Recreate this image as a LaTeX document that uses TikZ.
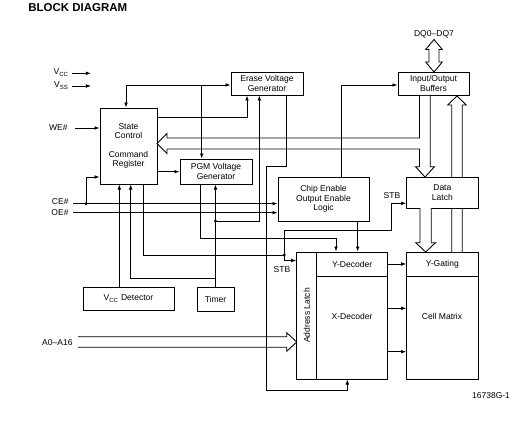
\documentclass[tikz,border=0pt]{standalone}
\usepackage{fontspec}
\setmainfont{Liberation Sans}
\usetikzlibrary{arrows.meta}

\tikzset{
  blk/.style={draw, fill=white, inner sep=0pt, align=center, font=\fontsize{6.4}{7.1}\selectfont},
  lbl/.style={inner sep=0.75pt, align=center, font=\fontsize{6.4}{7.1}\selectfont},
  sig/.style={-{Latex[length=3.8pt,width=2.8pt]}},
  bus/.style={draw, fill=white, line join=miter},
}

\begin{document}
\begin{tikzpicture}[x=0.75pt,y=0.75pt,yscale=-1,xscale=1,line width=0.65pt]
\useasboundingbox (0,0) rectangle (521,428);
\node[anchor=west, inner sep=0pt, font=\fontsize{8.6}{10}\selectfont\bfseries] (title) at (28,8) {BLOCK DIAGRAM};

\node[blk, minimum width=54pt, minimum height=17.25pt] (erase) at (267,83.5) {Erase Voltage\\Generator};
\node[blk, minimum width=53.25pt, minimum height=17.25pt] (iob) at (433.5,83.5) {Input/Output\\Buffers};
\node[blk, minimum width=42.75pt, minimum height=57pt] (sc) at (128.5,146) {State\\Control\\[7pt]Command\\Register};
\node[blk, minimum width=54pt, minimum height=18.75pt] (pgm) at (216,171.5) {PGM Voltage\\Generator};
\node[blk, minimum width=68.25pt, minimum height=33pt] (cel) at (323.5,199) {Chip Enable\\Output Enable\\Logic};
\node[blk, minimum width=68.25pt, minimum height=17.25pt] (vccd) at (128.5,298.5) {V\textsubscript{CC} Detector};
\node[blk, minimum width=27.75pt, minimum height=18pt] (timer) at (215.5,299) {Timer};
\node[blk, minimum width=15pt, minimum height=95.25pt] (addr) at (306.7,315.5) {};
\node[blk, minimum width=53.25pt, minimum height=18pt] (ydec) at (352.2,264) {Y-Decoder};
\node[blk, minimum width=53.25pt, minimum height=77.25pt] (xdec) at (352.2,327.5) {};
\node[blk, minimum width=53.5pt, minimum height=18pt] (ygate) at (442.35,264) {Y-Gating};
\node[blk, minimum width=53.5pt, minimum height=77.25pt] (cmat) at (442.35,327.5) {};
\node[lbl, rotate=90] (addrt) at (addr.center) {Address Latch};
\node[lbl] (xdect) at (352,316.7) {X-Decoder};
\node[lbl] (cmatt) at (442,316) {Cell Matrix};

\draw[bus] (451.7,252) -- (451.7,105) -- (447.7,105) -- (457,96) -- (466.3,105) -- (462.3,105) -- (462.3,252);
\node[blk, minimum width=53.5pt, minimum height=23.25pt] (dl) at (442.35,192.5) {Data\\Latch};

\draw[bus] (434,39.5) -- (442.3,49.5) -- (439,49.5) -- (439,62) -- (442.3,62) -- (434,72) -- (425.7,62) -- (429,62) -- (429,49.5) -- (425.7,49.5) -- cycle;
\draw[bus] (419.5,96) -- (419.5,138) -- (167,138) -- (167,133.5) -- (157,143.5) -- (167,153.5) -- (167,149) -- (419.5,149) -- (419.5,166.7) -- (415.5,166.7) -- (425,177) -- (434.5,166.7) -- (430.2,166.7) -- (430.2,96);
\draw[bus] (420,208) -- (420,242.7) -- (415.7,242.7) -- (425.7,252) -- (435.5,242.7) -- (431.3,242.7) -- (431.3,208);
\draw[bus] (78,336.7) -- (286.7,336.7) -- (286.7,332.7) -- (296.7,342) -- (286.7,351.3) -- (286.7,347.3) -- (78,347.3);

\node[lbl, anchor=east] (vcc) at (70,72.5) {V\textsubscript{CC}};
\node[lbl, anchor=east] (vss) at (70,85.5) {V\textsubscript{SS}};
\node[lbl, anchor=east] (we) at (69,128) {WE\#};
\node[lbl, anchor=east] (ce) at (70,202) {CE\#};
\node[lbl, anchor=east] (oe) at (70,212.7) {OE\#};
\node[lbl, anchor=east] (a0) at (74,342.5) {A0--A16};
\node[lbl] (dq) at (434,34) {DQ0--DQ7};
\node[lbl] (stba) at (392,196) {STB};
\node[lbl] (stbb) at (282,270) {STB};
\node[lbl] (fig) at (491,396) {16738G-1};

\coordinate (vccend) at (91,73.3);
\coordinate (vssend) at (91,86);
\coordinate (tl) at (126,85);
\coordinate (tb) at (201.7,85);
\coordinate (cedot) at (86,203.7);
\coordinate (tmdot) at (timer.north |- 0,221);
\coordinate (stbdot) at (284.3,255);

\draw[sig] (vcc.east |- vccend) ++(2,0) -- (vccend);
\draw[sig] (vss.east |- vssend) ++(2,0) -- (vssend);
\draw[sig] (we.east) ++(6,0) -- (we -| sc.west);
\draw[sig] (ce.east |- cedot) ++(3,0) -- (cedot -| cel.west);
\draw[sig] (oe.east) ++(3,0) -- (oe -| cel.west);
\draw[sig] (cedot) |- (sc.west |- 0,177);

\draw[sig] (tl) -- (tl -| erase.west);
\draw[sig] (tl) -- (tl |- sc.north);
\draw[sig] (tb) -- (tb |- pgm.north);
\draw[sig] (sc.east |- 0,117) -| (erase.south -| 247,0);
\draw[sig] (sc.east |- 0,171.7) -- (pgm.west |- 0,171.7);

\draw[sig] (timer.north) -- (pgm.south -| timer.north);
\draw[sig] (tmdot) -| (erase.south -| 259.3,0);
\draw[sig] (timer.north |- 0,278.3) -| (sc.south -| 130.7,0);
\draw[sig] (vccd.north -| 119.3,0) -- (sc.south -| 119.3,0);

\draw (sc.south -| 143.3,0) |- (stbdot);
\draw[sig] (stbdot) |- (addr.west |- 0,260.5);
\draw[sig] (stbdot) |- (391.7,230) |- (dl.west |- 0,203.3);

\draw[sig] (pgm.south -| 200.7,0) |- (336,238.3) -- (ydec.north -| 336,0);
\draw[sig] (cel.south -| 357.7,0) -- (ydec.north -| 357.7,0);
\draw[sig] (cel.north -| 341.7,0) |- (iob.west |- 0,85);
\draw[sig] (erase.south -| 286.7,0) |- (266,166.7) |- (347.3,390) -- (xdec.south -| 347.3,0);

\draw[sig] (ydec.east |- 0,264) -- (ygate.west |- 0,264);
\foreach \yy in {308.3,351.7}
  \draw[sig] (xdec.east |- 0,\yy) -- (cmat.west |- 0,\yy);

\foreach \d in {cedot,tmdot,stbdot}
  \fill (\d) circle (1.6);
\end{tikzpicture}
\end{document}
